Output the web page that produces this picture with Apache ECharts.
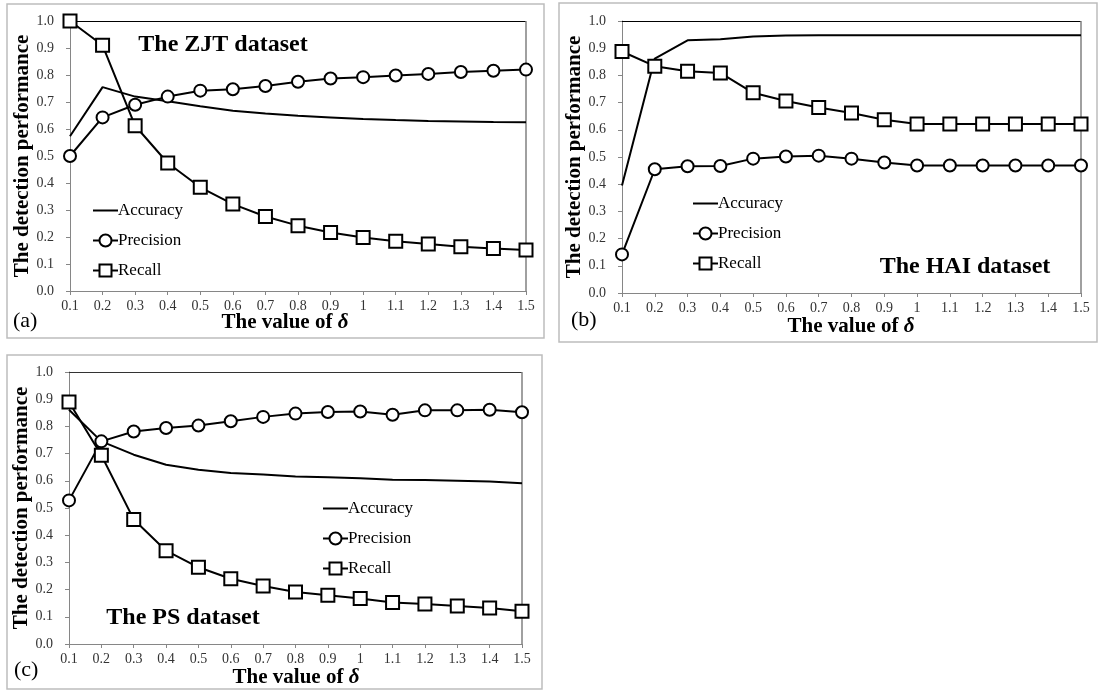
<!DOCTYPE html>
<html>
<head>
<meta charset="utf-8">
<script src="https://cdn.jsdelivr.net/npm/echarts@6/dist/echarts.min.js"></script>
<style>
  html, body { margin: 0; padding: 0; background: #fff; }
  #chart { width: 1107px; height: 693px; }
</style>
</head>
<body>
<div id="chart"></div>
<script>
// x categories (value of delta)
const deltas = ['0.1', '0.2', '0.3', '0.4', '0.5', '0.6', '0.7', '0.8', '0.9', '1', '1.1', '1.2', '1.3', '1.4', '1.5'];

// (a) ZJT dataset
const zjtAccuracy = [0.573, 0.755, 0.720, 0.703, 0.684, 0.668, 0.657, 0.649, 0.643, 0.637, 0.633, 0.630, 0.628, 0.626, 0.625];
const zjtPrecision = [0.500, 0.643, 0.690, 0.720, 0.742, 0.747, 0.759, 0.775, 0.787, 0.792, 0.798, 0.804, 0.811, 0.816, 0.820];
const zjtRecall = [1.000, 0.910, 0.612, 0.474, 0.384, 0.322, 0.276, 0.242, 0.217, 0.198, 0.184, 0.174, 0.164, 0.157, 0.152];

// (b) HAI dataset
const haiAccuracy = [0.395, 0.862, 0.929, 0.933, 0.943, 0.947, 0.948, 0.948, 0.948, 0.948, 0.948, 0.948, 0.948, 0.948, 0.948];
const haiPrecision = [0.142, 0.455, 0.466, 0.467, 0.494, 0.502, 0.505, 0.494, 0.480, 0.469, 0.469, 0.469, 0.469, 0.469, 0.469];
const haiRecall = [0.888, 0.834, 0.815, 0.809, 0.736, 0.706, 0.682, 0.662, 0.637, 0.621, 0.621, 0.621, 0.621, 0.621, 0.621];

// (c) PS dataset
const psAccuracy = [0.861, 0.745, 0.696, 0.659, 0.641, 0.629, 0.623, 0.616, 0.613, 0.609, 0.604, 0.603, 0.600, 0.597, 0.591];
const psPrecision = [0.528, 0.745, 0.781, 0.794, 0.803, 0.819, 0.835, 0.847, 0.853, 0.855, 0.843, 0.859, 0.859, 0.861, 0.852];
const psRecall = [0.890, 0.694, 0.458, 0.343, 0.282, 0.240, 0.213, 0.191, 0.179, 0.167, 0.153, 0.147, 0.140, 0.132, 0.120];

const FONT = '"Liberation Serif", "Times New Roman", serif';

const panels = [
  {
    grid: { left: 70, top: 21, width: 456, height: 270 },
    box: [7, 4, 537, 334], topColor: '#000',
    legend: { left: 92, top: 202 },
    title: 'The ZJT dataset', titlePos: [223, 45],
    label: '(a)', labelPos: [13, 321], xTitlePos: [285, 323],
    data: [zjtAccuracy, zjtPrecision, zjtRecall]
  },
  {
    grid: { left: 622, top: 21, width: 459, height: 272 },
    box: [559, 3, 538, 339], topColor: '#000',
    legend: { left: 692, top: 195 },
    title: 'The HAI dataset', titlePos: [965, 267],
    label: '(b)', labelPos: [571, 320], xTitlePos: [851, 327],
    data: [haiAccuracy, haiPrecision, haiRecall]
  },
  {
    grid: { left: 69, top: 372, width: 453, height: 272 },
    box: [7, 355, 535, 334], topColor: '#333',
    legend: { left: 322, top: 500 },
    title: 'The PS dataset', titlePos: [183, 618],
    label: '(c)', labelPos: [14, 670], xTitlePos: [296, 678],
    data: [psAccuracy, psPrecision, psRecall]
  }
];

const names = ['Accuracy', 'Precision', 'Recall'];
const symbols = ['none', 'circle', 'rect'];

const grid = [], xAxis = [], yAxis = [], series = [], legend = [], graphic = [];

panels.forEach(function (p, i) {
  grid.push(p.grid);
  xAxis.push({
    type: 'category', gridIndex: i, data: deltas, boundaryGap: false,
    axisLine: { lineStyle: { color: '#868686', width: 1 } },
    axisTick: { show: true, length: 4, lineStyle: { color: '#868686' } },
    axisLabel: { color: '#333', fontFamily: FONT, fontSize: 14, margin: 8, interval: 0 },
    splitLine: { show: false }
  });
  yAxis.push({
    type: 'value', gridIndex: i, min: 0, max: 1, interval: 0.1,
    name: 'The detection performance', nameLocation: 'middle', nameRotate: 90, nameGap: 36,
    nameTextStyle: { fontFamily: FONT, fontSize: 21, fontWeight: 'bold', color: '#000' },
    axisLine: { show: true, lineStyle: { color: '#868686', width: 1 } },
    axisTick: { show: true, length: 4, lineStyle: { color: '#868686' } },
    axisLabel: { color: '#333', fontFamily: FONT, fontSize: 14, margin: 16,
      formatter: function (v) { return v.toFixed(1); } },
    splitLine: { show: false }
  });
  names.forEach(function (n, k) {
    series.push({
      name: n, type: 'line', xAxisIndex: i, yAxisIndex: i,
      data: p.data[k],
      symbol: symbols[k], showSymbol: k > 0,
      symbolSize: k === 1 ? 12 : 13,
      lineStyle: { color: '#000', width: 2 },
      itemStyle: { color: '#fff', borderColor: '#000', borderWidth: 2 },
      z: 3 + k, animation: false
    });
  });
  legend.push({
    data: [
      { name: 'Accuracy', icon: 'path://M0,0L25,0L25,2L0,2Z', itemStyle: { color: '#000', borderWidth: 0 } },
      'Precision', 'Recall'
    ],
    orient: 'vertical', left: p.legend.left, top: p.legend.top, padding: 0,
    itemWidth: 25, itemHeight: 15, itemGap: 13, selectedMode: false,
    textStyle: { fontFamily: FONT, fontSize: 17, color: '#000', padding: [0, 0, 0, -5] }
  });
  graphic.push({
    type: 'rect', shape: { x: p.box[0], y: p.box[1], width: p.box[2], height: p.box[3] },
    style: { fill: 'none', stroke: '#bdbdbd', lineWidth: 1.5 }, z: 0
  });
  // plot frame: top and right
  const g = p.grid;
  graphic.push({
    type: 'line', shape: { x1: g.left, y1: g.top + 0.5, x2: g.left + g.width, y2: g.top + 0.5 },
    style: { stroke: p.topColor, lineWidth: 1.2 }, z: 1
  });
  graphic.push({
    type: 'line', shape: { x1: g.left + g.width, y1: g.top, x2: g.left + g.width, y2: g.top + g.height },
    style: { stroke: '#808080', lineWidth: 1.5 }, z: 1
  });
  graphic.push({
    type: 'text', x: p.titlePos[0], y: p.titlePos[1], z: 10,
    style: { text: p.title, fontFamily: FONT, fontSize: 24, fontWeight: 'bold', fill: '#000',
      align: 'center', verticalAlign: 'middle' }
  });
  graphic.push({
    type: 'text', x: p.labelPos[0], y: p.labelPos[1], z: 10,
    style: { text: p.label, fontFamily: FONT, fontSize: 22, fill: '#000',
      align: 'left', verticalAlign: 'middle' }
  });
  graphic.push({
    type: 'text', x: p.xTitlePos[0], y: p.xTitlePos[1], z: 10,
    style: {
      text: '{n|The value of }{d|δ}',
      align: 'center', verticalAlign: 'middle',
      rich: {
        n: { fontFamily: FONT, fontSize: 21, fontWeight: 'bold', fill: '#000', color: '#000' },
        d: { fontFamily: FONT, fontSize: 21, fontWeight: 'bold', fontStyle: 'italic', fill: '#000', color: '#000' }
      }
    }
  });
});

const chart = echarts.init(document.getElementById('chart'), null, { renderer: 'canvas' });
chart.setOption({
  backgroundColor: '#fff',
  animation: false,
  grid: grid,
  xAxis: xAxis,
  yAxis: yAxis,
  legend: legend,
  series: series,
  graphic: graphic
});
</script>
</body>
</html>
